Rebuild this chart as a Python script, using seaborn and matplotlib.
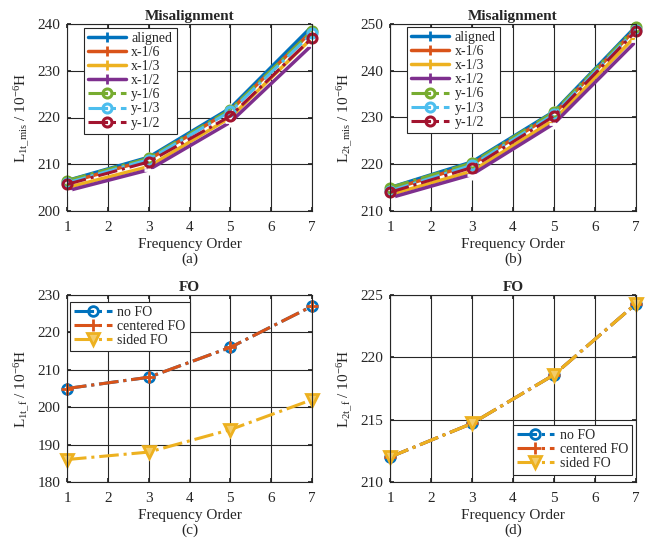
import matplotlib
matplotlib.use("Agg")
import matplotlib.pyplot as plt
import seaborn as sns
import numpy as np

sns.set_theme(style="white")
plt.rcParams['font.family'] = ['Liberation Serif', 'DejaVu Serif']
plt.rcParams['mathtext.fontset'] = 'custom'
plt.rcParams['mathtext.rm'] = 'Liberation Serif'
plt.rcParams['mathtext.it'] = 'Liberation Serif:italic'
plt.rcParams['mathtext.bf'] = 'Liberation Serif:bold'

orders = [1, 3, 5, 7]
mis_labels = ["aligned", "x-1/6", "x-1/3", "x-1/2", "y-1/6", "y-1/3", "y-1/2"]

L1_aligned = [206.5, 211.5, 222.0, 239.5]
L1_x16 = [206.0, 211.0, 221.5, 238.5]
L1_x13 = [205.0, 209.5, 220.0, 237.0]
L1_x12 = [204.3, 208.8, 219.0, 235.5]
L1_y16 = [206.5, 211.3, 221.7, 238.5]
L1_y13 = [206.0, 211.0, 221.3, 238.0]
L1_y12 = [205.7, 210.5, 220.3, 237.0]

L2_aligned = [215.0, 220.5, 231.3, 249.5]
L2_x16 = [214.5, 220.0, 230.8, 249.0]
L2_x13 = [213.5, 218.5, 229.5, 247.5]
L2_x12 = [212.8, 217.8, 228.7, 246.3]
L2_y16 = [215.0, 220.3, 231.2, 249.3]
L2_y13 = [214.3, 219.8, 230.7, 248.8]
L2_y12 = [214.0, 219.3, 230.3, 248.5]

fo_labels = ["no FO", "centered FO", "sided FO"]
L1f_no = [205.0, 208.0, 216.0, 227.0]
L1f_centered = [205.0, 208.0, 216.0, 227.0]
L1f_sided = [186.0, 188.0, 194.0, 202.0]
L2f_no = [212.0, 214.7, 218.6, 224.3]
L2f_centered = [212.0, 214.7, 218.6, 224.3]
L2f_sided = [212.0, 214.7, 218.6, 224.3]

mcolors = ["#0072BD", "#D95319", "#EDB120", "#7E2F8E", "#77AC30", "#4DBEEE", "#A2142F"]
TXT = '#262626'

fig = plt.figure(figsize=(6.51, 5.42), dpi=100)
W, H = 651, 542
def add_ax(x0, y0, x1, y1):
    return fig.add_axes([x0 / W, 1 - y1 / H, (x1 - x0) / W, (y1 - y0) / H])

axa = add_ax(67, 24, 312, 211)
axb = add_ax(390, 24, 636, 211)
axc = add_ax(67, 295, 312, 482)
axd = add_ax(390, 295, 636, 482)

def style_ax(ax, ylim, yticks, ylabel, title, tag):
    ax.set_xlim(1, 7)
    ax.set_xticks(range(1, 8))
    ax.set_ylim(*ylim)
    ax.set_yticks(yticks)
    ax.grid(True, color=TXT, linewidth=0.8, linestyle='-')
    ax.set_axisbelow(True)
    for s in ax.spines.values():
        s.set_visible(True)
        s.set_color(TXT)
        s.set_linewidth(0.8)
    ax.tick_params(axis='both', labelsize=11, colors=TXT, length=3, direction='in',
                   bottom=True, left=True, top=True, right=True)
    ax.tick_params(axis='x', pad=7)
    ax.tick_params(axis='y', pad=5)
    ax.set_xlabel("Frequency Order", fontsize=11, color=TXT)
    ax.xaxis.set_label_coords(0.5, -0.178)
    ax.xaxis.label.set_va('center')
    ax.set_ylabel(ylabel, fontsize=11, color=TXT)
    ax.yaxis.set_label_coords(-0.178, 0.5)
    ax.yaxis.label.set_va('center')
    ax.set_title(title, fontsize=11, fontweight='bold', pad=3)
    ax.text(0.5, -0.26, tag, transform=ax.transAxes, ha='center', va='center', fontsize=11, color=TXT)

def make_legend(ax, loc, bbox, handles, labels):
    leg = ax.legend(handles, labels, loc=loc, bbox_to_anchor=bbox, fontsize=10, frameon=True,
                    fancybox=False, edgecolor=TXT, framealpha=1, borderpad=0.3, labelspacing=0.08,
                    handlelength=2.7, handletextpad=0.4, borderaxespad=0)
    leg.get_frame().set_linewidth(0.8)

def mis_panel(ax, series, bbox):
    handles = []
    for i, (lab, vals) in enumerate(zip(mis_labels, series)):
        if i < 4:
            kw = dict(color=mcolors[i], linewidth=2.5, linestyle='-', marker='+', markersize=7,
                      markeredgewidth=2.0)
        else:
            kw = dict(color=mcolors[i], linewidth=2.2, linestyle='-.', marker='o', markersize=6.5,
                      markerfacecolor='none', markeredgewidth=2.2, markeredgecolor=mcolors[i])
        sns.lineplot(x=orders, y=vals, ax=ax, clip_on=False, legend=False, **kw)
        handles.append(plt.Line2D([], [], **kw))
    make_legend(ax, 'upper left', bbox, handles, mis_labels)

mis_panel(axa, [L1_aligned, L1_x16, L1_x13, L1_x12, L1_y16, L1_y13, L1_y12], (0.07, 0.98))
style_ax(axa, (200, 240), range(200, 241, 10), r'L$_{\mathrm{1t\_mis}}$ / 10$^{-6}$H', "Misalignment", "(a)")

mis_panel(axb, [L2_aligned, L2_x16, L2_x13, L2_x12, L2_y16, L2_y13, L2_y12], (0.07, 0.985))
style_ax(axb, (210, 250), range(210, 251, 10), r'L$_{\mathrm{2t\_mis}}$ / 10$^{-6}$H', "Misalignment", "(b)")

def fo_panel(ax, series, loc, bbox):
    markers = ['o', '+', 'v']
    handles = []
    for i, (lab, vals) in enumerate(zip(fo_labels, series)):
        if markers[i] == 'o':
            kw = dict(marker='o', markersize=7, markerfacecolor='none')
        elif markers[i] == '+':
            kw = dict(marker='+', markersize=8)
        else:
            kw = dict(marker='v', markersize=8, markerfacecolor='#F3CC6A')
        kw.update(color=mcolors[i], linewidth=2.2, linestyle='-.', markeredgewidth=2.0,
                  markeredgecolor=mcolors[i])
        sns.lineplot(x=orders, y=vals, ax=ax, clip_on=False, legend=False, **kw)
        handles.append(plt.Line2D([], [], **kw))
    make_legend(ax, loc, bbox, handles, fo_labels)

fo_panel(axc, [L1f_no, L1f_centered, L1f_sided], 'upper left', (0.012, 0.965))
style_ax(axc, (180, 230), range(180, 231, 10), r'L$_{\mathrm{1t\_f}}$ / 10$^{-6}$H', "FO", "(c)")

fo_panel(axd, [L2f_no, L2f_centered, L2f_sided], 'lower right', (0.985, 0.04))
style_ax(axd, (210, 225), range(210, 226, 5), r'L$_{\mathrm{2t\_f}}$ / 10$^{-6}$H', "FO", "(d)")

fig.savefig("out.png", dpi=100, facecolor='white')
